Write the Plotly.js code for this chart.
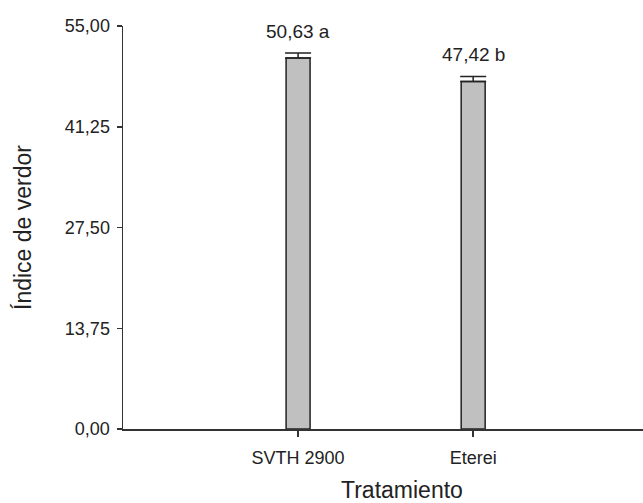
<!DOCTYPE html>
<html>
<head>
<meta charset="utf-8">
<script src="https://cdn.plot.ly/plotly-3.0.1.min.js"></script>
<style>html,body{margin:0;padding:0;background:#fff;}#chart{width:643px;height:503px;}</style>
</head>
<body>
<div id="chart"></div>
<script>
const categories = ["SVTH 2900", "Eterei"];
const means = [50.63, 47.42];
const errors = [0.7, 0.7];
const letters = ["a", "b"];
const yTicks = [0, 13.75, 27.5, 41.25, 55];
const yTickLabels = ["0,00", "13,75", "27,50", "41,25", "55,00"];
const xTitle = "Tratamiento";
const yTitle = "Índice de verdor";

const fmt = v => v.toFixed(2).replace(".", ",");
const FONT = "Liberation Sans, Arial, sans-serif";

const trace = {
  type: "bar",
  x: categories,
  y: means,
  width: 0.137,
  marker: {color: "#c0c0c0", line: {color: "#222", width: 1.5}},
  error_y: {type: "data", symmetric: false, array: errors, arrayminus: errors.map(() => 0),
            visible: true, color: "#222", thickness: 1.5, width: 13},
  hoverinfo: "none"
};

const annotations = categories.map((c, i) => ({
  x: c, y: means[i] + errors[i], xref: "x", yref: "y",
  text: fmt(means[i]) + " " + letters[i],
  showarrow: false, yanchor: "bottom", yshift: 9,
  font: {family: FONT, size: 19, color: "#222"}
}));
annotations.push({
  x: 0.5365, y: -0.152, xref: "paper", yref: "paper",
  xanchor: "center", yanchor: "middle", showarrow: false,
  text: xTitle, font: {family: FONT, size: 23, color: "#222"}
});

const layout = {
  width: 643, height: 503,
  margin: {l: 123, r: 0, t: 26, b: 73.5, pad: 0},
  paper_bgcolor: "#fff", plot_bgcolor: "#fff",
  showlegend: false,
  font: {family: FONT, size: 18, color: "#222"},
  xaxis: {
    type: "category", range: [-1, 1.97],
    showline: true, linecolor: "#333", linewidth: 1.5,
    ticks: "outside", ticklen: 6, tickcolor: "#333", tickwidth: 1.5,
    ticklabelstandoff: 6,
    showgrid: false, zeroline: false,
    tickfont: {size: 18}
  },
  yaxis: {
    range: [0, 55],
    tickmode: "array", tickvals: yTicks, ticktext: yTickLabels,
    showline: true, linecolor: "#333", linewidth: 1.5,
    ticks: "outside", ticklen: 5, tickcolor: "#333", tickwidth: 1.5,
    ticklabelstandoff: 3,
    showgrid: false, zeroline: false,
    tickfont: {size: 18},
    title: {text: yTitle, font: {size: 23}, standoff: 27}
  },
  annotations: annotations
};

Plotly.newPlot("chart", [trace], layout, {displayModeBar: false, staticPlot: true});
</script>
</body>
</html>
